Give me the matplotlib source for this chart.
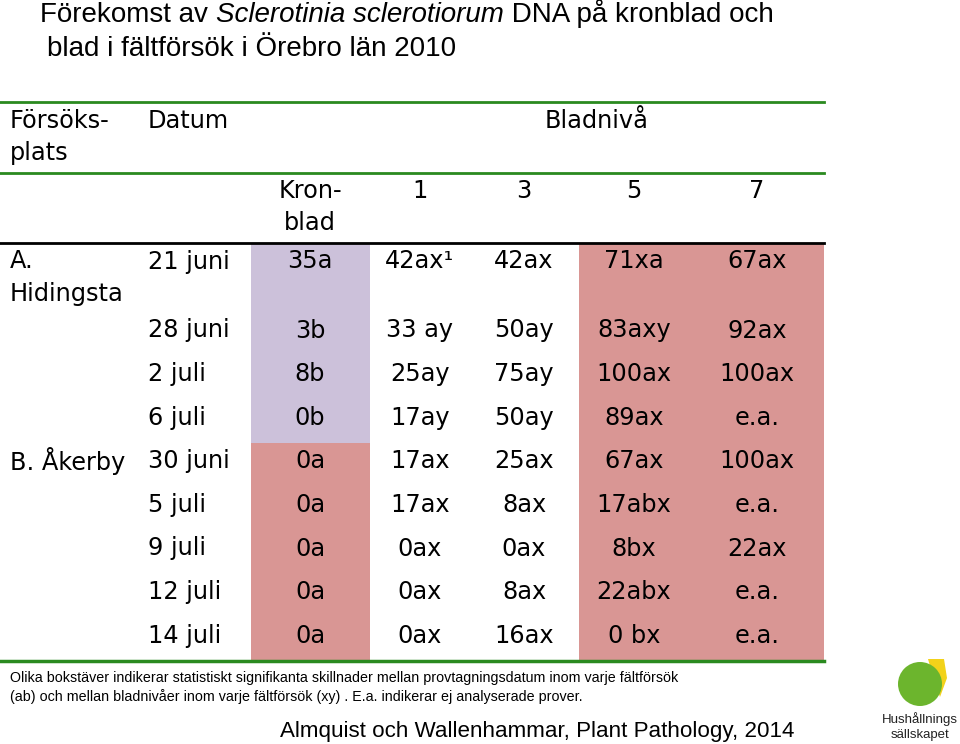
import matplotlib
matplotlib.use("Agg")
import matplotlib.pyplot as plt
from matplotlib.patches import Rectangle, Circle, Polygon

# data
dates = ["21 juni", "28 juni", "2 juli", "6 juli", "30 juni", "5 juli", "9 juli", "12 juli", "14 juli"]
site = ["A.\nHidingsta", "", "", "", "B. Åkerby", "", "", "", ""]
kronblad = ["35a", "3b", "8b", "0b", "0a", "0a", "0a", "0a", "0a"]
blad1 = ["42ax¹", "33 ay", "25ay", "17ay", "17ax", "17ax", "0ax", "0ax", "0ax"]
blad3 = ["42ax", "50ay", "75ay", "50ay", "25ax", "8ax", "0ax", "8ax", "16ax"]
blad5 = ["71xa", "83axy", "100ax", "89ax", "67ax", "17abx", "8bx", "22abx", "0 bx"]
blad7 = ["67ax", "92ax", "100ax", "e.a.", "100ax", "e.a.", "22ax", "e.a.", "e.a."]
levels = ["Kron-\nblad", "1", "3", "5", "7"]
site_group = ["A", "A", "A", "A", "B", "B", "B", "B", "B"]

# layout (pixels)
col_edges = [251, 370, 470, 579, 690, 824]
centers = [310, 420, 524, 634, 757]
row_edges = [243, 312, 355.6, 399.2, 442.8, 486.4, 530, 573.6, 617.2, 661]
lavender = "#ccc1da"
pink = "#d99694"
green = "#2a8a1f"
FS = 17.3
FONT = "DejaVu Sans"

fig = plt.figure(figsize=(9.6, 7.44), dpi=100)
ax = fig.add_axes([0, 0, 1, 1])
ax.set_xlim(0, 960)
ax.set_ylim(744, 0)
ax.axis("off")


def put(x, y, s, ha="left", fs=FS, step=32, **kw):
    for k, line in enumerate(s.split("\n")):
        ax.text(x, y + k * step, line, ha=ha, va="center", fontsize=fs,
                family=FONT, **kw)


# title (three pieces on the same baseline, middle one italic)
r = fig.canvas.get_renderer()
tfs = 20
t1 = ax.text(40, 22, "Förekomst av ", fontsize=tfs, family="Liberation Sans", va="baseline")
bb = t1.get_window_extent(r)
t2 = ax.text(40 + bb.width, 22, "Sclerotinia sclerotiorum", fontsize=tfs,
             family="Liberation Sans", style="italic", va="baseline")
bb2 = t2.get_window_extent(r)
ax.text(40 + bb.width + bb2.width, 22, " DNA på kronblad och", fontsize=tfs,
        family="Liberation Sans", va="baseline")
ax.text(47, 56, "blad i fältförsök i Örebro län 2010", fontsize=tfs,
        family="Liberation Sans", va="baseline")

# cell backgrounds
for i in range(len(dates)):
    y0, y1 = row_edges[i], row_edges[i + 1]
    kc = lavender if site_group[i] == "A" else pink
    ax.add_patch(Rectangle((col_edges[0], y0), col_edges[1] - col_edges[0], y1 - y0,
                           color=kc, lw=0))
    ax.add_patch(Rectangle((col_edges[3], y0), col_edges[5] - col_edges[3], y1 - y0,
                           color=pink, lw=0))

# rules
ax.plot([0, 824], [102, 102], color=green, lw=2)
ax.plot([0, 824], [173, 173], color=green, lw=2)
ax.plot([0, 824], [243, 243], color="black", lw=2)
ax.plot([0, 824], [661, 661], color=green, lw=2.5)

# headers
put(10, 121, "Försöks-\nplats")
put(148, 121, "Datum")
put(597, 121, "Bladnivå", ha="center")
for c, lab in zip(centers, levels):
    put(c, 191, lab, ha="center")

# body
cols = [kronblad, blad1, blad3, blad5, blad7]
for i in range(len(dates)):
    y = row_edges[i] + 18.5
    if site[i]:
        put(10, y, site[i])
    put(148, y, dates[i])
    for c, col in zip(centers, cols):
        put(c, y, col[i], ha="center")

# footnote
ax.text(10, 678, "Olika bokstäver indikerar statistiskt signifikanta skillnader mellan "
        "provtagningsdatum inom varje fältförsök", fontsize=10.3,
        family="Liberation Sans", va="center")
ax.text(10, 697, "(ab) och mellan bladnivåer inom varje fältförsök (xy) . E.a. "
        "indikerar ej analyserade prover.", fontsize=10.3,
        family="Liberation Sans", va="center")
ax.text(537, 731, "Almquist och Wallenhammar, Plant Pathology, 2014", fontsize=16.1,
        family="Liberation Sans", va="center", ha="center")

# logo
ax.add_patch(Polygon([[928, 659], [944, 659], [947, 678], [940, 697], [933, 676]],
                     closed=True, color="#f2d21a", lw=0))
ax.add_patch(Circle((920, 684), 22, color="#6cb52d", lw=0))
ax.text(920, 719, "Hushållnings", fontsize=9.5, family="Liberation Sans",
        ha="center", va="center", color="#222222")
ax.text(920, 735, "sällskapet", fontsize=9.5, family="Liberation Sans",
        ha="center", va="center", color="#222222")

fig.savefig("out.png", dpi=100)
